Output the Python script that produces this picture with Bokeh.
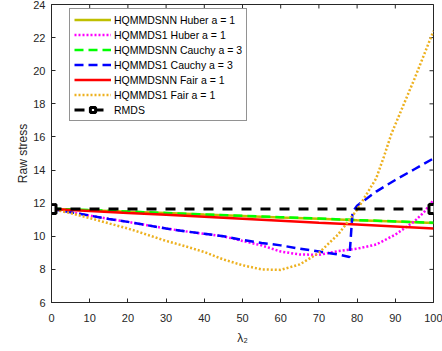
import math
from bokeh.plotting import figure
from bokeh.models import Range1d, FixedTicker, Legend, LegendItem
from bokeh.embed import file_html
from bokeh.resources import INLINE

# ---- data ----
x_snn = [0, 10, 20, 30, 40, 50, 60, 70, 80, 90, 100]
huber_snn = [11.65, 11.57, 11.48, 11.40, 11.31, 11.23, 11.14, 11.06, 10.97, 10.89, 10.80]
cauchy_snn = [11.66, 11.58, 11.49, 11.41, 11.32, 11.24, 11.15, 11.07, 10.98, 10.90, 10.82]
fair_snn = [11.65, 11.53, 11.41, 11.30, 11.18, 11.06, 10.94, 10.82, 10.71, 10.59, 10.47]

x_huber1 = [0, 5, 10, 15, 20, 25, 30, 35, 40, 45, 50, 55, 60, 65, 70, 75, 80, 85, 90, 95, 97.5, 100]
huber_s1 = [11.65, 11.45, 11.25, 11.05, 10.87, 10.67, 10.47, 10.3, 10.15, 10.0, 9.72, 9.45,
            9.08, 8.9, 8.88, 9.1, 9.25, 9.5, 10.1, 10.9, 11.45, 12.2]

x_cauchy1 = [0, 5, 10, 15, 20, 25, 30, 35, 40, 45, 50, 55, 60, 65, 70, 75, 78, 78.8, 80, 85, 90, 95, 100]
cauchy_s1 = [11.65, 11.45, 11.25, 11.05, 10.87, 10.67, 10.47, 10.3, 10.15, 10.0, 9.78, 9.6,
             9.45, 9.25, 9.08, 8.9, 8.75, 11.45, 11.85, 12.7, 13.4, 14.05, 14.7]

x_fair1 = [0, 5, 10, 15, 20, 25, 30, 35, 40, 45, 50, 55, 60, 65, 70, 75, 80, 85, 87, 89, 95, 100]
fair_s1 = [11.65, 11.4, 11.1, 10.78, 10.47, 10.1, 9.72, 9.4, 9.05, 8.6, 8.25, 8.0, 7.97, 8.3,
           9.0, 10.1, 11.6, 13.5, 14.8, 16.2, 19.5, 22.4]

x_rmds = [0, 100]
rmds = [11.65, 11.65]

x_ticks = [0, 10, 20, 30, 40, 50, 60, 70, 80, 90, 100]
y_ticks = [6, 8, 10, 12, 14, 16, 18, 20, 22, 24]
X_MAX = 100
Y_MAX = 24

FONT = "Liberation Sans"
AX = "#262626"

p = figure(width=442, height=351, output_backend="svg", toolbar_location=None,
           x_range=Range1d(0, X_MAX), y_range=Range1d(6, Y_MAX),
           min_border_left=51, min_border_right=9, min_border_top=4, min_border_bottom=49)
p.background_fill_color = "white"
p.border_fill_color = "white"
p.outline_line_color = AX
p.outline_line_width = 1
p.xgrid.visible = False
p.ygrid.visible = False

p.xaxis.ticker = FixedTicker(ticks=x_ticks)
p.yaxis.ticker = FixedTicker(ticks=y_ticks)
for ax in (p.xaxis[0], p.yaxis[0]):
    ax.axis_line_color = AX
    ax.major_tick_line_color = AX
    ax.major_tick_in = 4
    ax.major_tick_out = 0
    ax.minor_tick_line_color = None
    ax.major_label_text_font = FONT
    ax.major_label_text_font_size = "11px"
    ax.major_label_text_color = AX
    ax.axis_label_text_font = FONT
    ax.axis_label_text_font_style = "normal"
    ax.axis_label_text_font_size = "12px"
    ax.axis_label_text_color = AX
p.xaxis.major_label_standoff = 11
p.yaxis.major_label_standoff = 6
p.xaxis.axis_label = "λ₂"
p.yaxis.axis_label = "Raw stress"
p.xaxis.axis_label_standoff = 6
p.yaxis.axis_label_standoff = 0

# inward ticks on the right and top edges of the box (clipped to the frame)
p.scatter([X_MAX] * len(y_ticks), y_ticks, marker="dash", size=8, line_color=AX, line_width=1)
p.scatter(x_ticks, [Y_MAX] * len(x_ticks), marker="dash", angle=math.pi / 2, size=8,
          line_color=AX, line_width=1)

r1 = p.line(x_snn, huber_snn, line_color="#bfbf00", line_width=2.5)
r2 = p.line(x_huber1, huber_s1, line_color="#ff00ff", line_width=2.5, line_dash="2 2")
r3 = p.line(x_snn, cauchy_snn, line_color="#00ff00", line_width=2.5, line_dash="9 5")
r4 = p.line(x_cauchy1, cauchy_s1, line_color="#0000ff", line_width=2.5, line_dash="9 5")
r5 = p.line(x_snn, fair_snn, line_color="#ff0000", line_width=2.5)
r6 = p.line(x_fair1, fair_s1, line_color="#edb120", line_width=2.5, line_dash="2 2")
r7 = p.line(x_rmds, rmds, line_color="black", line_width=3, line_dash="10 9")
r7m = p.scatter(x_rmds, rmds, marker="square", size=9, line_color="black", line_width=3,
                fill_color="white")

legend = Legend(items=[
    LegendItem(label="HQMMDSNN Huber a = 1", renderers=[r1]),
    LegendItem(label="HQMMDS1 Huber a = 1", renderers=[r2]),
    LegendItem(label="HQMMDSNN Cauchy a = 3", renderers=[r3]),
    LegendItem(label="HQMMDS1 Cauchy a = 3", renderers=[r4]),
    LegendItem(label="HQMMDSNN Fair a = 1", renderers=[r5]),
    LegendItem(label="HQMMDS1 Fair a = 1", renderers=[r6]),
    LegendItem(label="RMDS", renderers=[r7, r7m]),
], location=(18, 181))
legend.label_text_font = FONT
legend.label_text_font_size = "10.5px"
legend.label_text_color = "black"
legend.label_height = 13
legend.glyph_height = 13
legend.glyph_width = 37
legend.label_standoff = 3
legend.spacing = 2
legend.padding = 4
legend.margin = 0
legend.border_line_color = AX
legend.border_line_width = 1
legend.background_fill_alpha = 1
p.add_layout(legend, "center")

open("out.html", "w").write(file_html(p, INLINE))
